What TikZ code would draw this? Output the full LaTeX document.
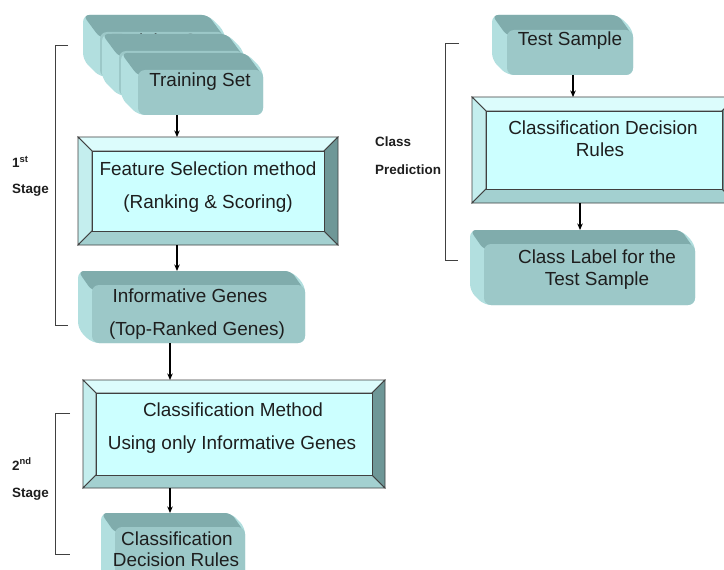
\documentclass[tikz,border=0pt]{standalone}
\usepackage{fontspec}
\setmainfont{Liberation Sans}
\usetikzlibrary{calc,arrows.meta}

\definecolor{slabfrontc}{HTML}{9CC8C8}
\definecolor{slabtopc}{HTML}{80ACAC}
\definecolor{slabsidec}{HTML}{B2DFDF}
\definecolor{bevface}{HTML}{CCFFFF}
\definecolor{bevtopc}{HTML}{DCFCFC}
\definecolor{bevleftc}{HTML}{C4EEEE}
\definecolor{bevbotc}{HTML}{A3D0D0}
\definecolor{bevrightc}{HTML}{6E9797}
\definecolor{ink}{HTML}{1E1E1E}
\definecolor{edgegray}{HTML}{404040}

\tikzset{
  slabface/.style={fill=slabfrontc, rounded corners=7bp, inner sep=0pt, outer sep=0pt},
  bevouter/.style={inner sep=0pt, outer sep=0pt},
  bevedge/.style={draw=edgegray, line width=0.8bp, line join=miter},
  boxtext/.style={font=\fontsize{19}{22}\selectfont, text=ink, inner sep=0pt, anchor=base},
  sidelabel/.style={font=\bfseries\fontsize{13.5}{16}\selectfont, text=ink, inner sep=0pt, anchor=base west},
  arr/.style={-{Stealth[length=6.5bp,width=5.5bp]}, line width=1.3bp, black},
  bracket/.style={draw=edgegray, line width=0.9bp},
}

% extruded rounded block: name, x1, y1, x2, y2 (front face), depth
\newcommand\slab[6]{%
  \fill[slabsidec, rounded corners=7bp] ({#2-#6},{#3-#6}) -- ({#4-#6},{#3-#6}) -- (#4,#3)
     -- (#4,#5) -- (#2,#5) -- ({#2-#6},{#5-#6}) -- cycle;
  \fill[slabtopc, rounded corners=6bp] ({#2-#6},{#3-#6}) -- ({#4-#6},{#3-#6}) -- (#4,{#3+6})
     -- (#2,{#3+6}) -- cycle;
  \coordinate (#1-back) at ({#2-#6},{#3-#6});
  \node[slabface, minimum width={(#4-#2)*1bp}, minimum height={(#5-#3)*1bp}]
     (#1) at ({(#2+#4)/2},{(#3+#5)/2}) {};
}

% bevelled panel: name, x1, y1, x2, y2 (outer), bevel width
\newcommand\bevbox[6]{%
  \node[bevouter, minimum width={(#4-#2)*1bp}, minimum height={(#5-#3)*1bp}]
     (#1) at ({(#2+#4)/2},{(#3+#5)/2}) {};
  \filldraw[bevedge, fill=bevtopc] (#2,#3) -- (#4,#3) -- ({#4-#6},{#3+#6}) -- ({#2+#6},{#3+#6}) -- cycle;
  \filldraw[bevedge, fill=bevleftc] (#2,#3) -- ({#2+#6},{#3+#6}) -- ({#2+#6},{#5-#6}) -- (#2,#5) -- cycle;
  \filldraw[bevedge, fill=bevbotc] (#2,#5) -- ({#2+#6},{#5-#6}) -- ({#4-#6},{#5-#6}) -- (#4,#5) -- cycle;
  \filldraw[bevedge, fill=bevrightc] (#4,#3) -- (#4,#5) -- ({#4-#6},{#5-#6}) -- ({#4-#6},{#3+#6}) -- cycle;
  \filldraw[bevedge, fill=bevface] ({#2+#6},{#3+#6}) rectangle ({#4-#6},{#5-#6});
}

\begin{document}
\begin{tikzpicture}[x=1bp, y=-1bp]
  \fill[white] (0,0) rectangle (724,570);
  \clip (0,0) rectangle (724,570);

  % arrow columns
  \coordinate (c1) at (177,0);
  \coordinate (c2) at (170,0);
  \coordinate (c3) at (573,0);
  \coordinate (c4) at (580,0);

  % ---- stack of training sets ----
  \slab{train3}{100}{32}{225}{77}{17}
  \node[boxtext] (train3T) at (162,48) {Training Set};
  \slab{train2}{119}{51}{244}{96}{17}
  \node[boxtext] (train2T) at (181,68) {Training Set};
  \slab{train}{138}{70}{263}{115}{17}
  \node[boxtext] (trainT) at (200,87) {Training Set};

  % ---- first stage ----
  \bevbox{feat}{78}{137}{338}{245}{14}
  \node[boxtext] (featT1) at (208,176) {Feature Selection method};
  \node[boxtext] (featT2) at (208,209) {(Ranking \& Scoring)};

  \slab{info}{92}{285}{305}{343}{14}
  \node[boxtext] (infoT1) at (190,302) {Informative Genes};
  \node[boxtext] (infoT2) at (197,335) {(Top-Ranked Genes)};

  % ---- second stage ----
  \bevbox{meth}{83}{380}{385}{488}{13}
  \node[boxtext] (methT1) at (233,416) {Classification Method};
  \node[boxtext] (methT2) at (232,449) {Using only Informative Genes};

  \slab{rules}{115}{527}{245}{590}{14}
  \node[boxtext] (rulesT1) at (177,545) {Classification};
  \node[boxtext] (rulesT2) at (176,566) {Decision Rules};

  % ---- class prediction ----
  \slab{test}{507}{30}{633}{75}{15}
  \node[boxtext] (testT) at (570,46) {Test Sample};

  \bevbox{pred}{472}{97}{736}{203}{14}
  \node[boxtext] (predT1) at (603,135) {Classification Decision};
  \node[boxtext] (predT2) at (600,157) {Rules};

  \slab{label}{484}{244}{695}{305}{14}
  \node[boxtext] (labelT1) at (597,263) {Class Label for the};
  \node[boxtext] (labelT2) at (597,285) {Test Sample};

  % ---- connectors ----
  \draw[arr] (train.south -| c1) -- (feat.north -| c1);
  \draw[arr] (feat.south -| c1) -- (info-back -| c1);
  \draw[arr] (info.south -| c2) -- (meth.north -| c2);
  \draw[arr] (meth.south -| c2) -- (rules-back -| c2);
  \draw[arr] (test.south -| c3) -- (pred.north -| c3);
  \draw[arr] (pred.south -| c4) -- (label-back -| c4);

  % ---- stage brackets and labels ----
  \draw[bracket] (68,45) -- (55,45) -- (55,325) -- (68,325);
  \node[sidelabel] (st1a) at (12,168) {1\textsuperscript{st}};
  \node[sidelabel] (st1b) at (12,194) {Stage};

  \draw[bracket] (70,413) -- (55,413) -- (55,554) -- (70,554);
  \node[sidelabel] (st2a) at (12,470) {2\textsuperscript{nd}};
  \node[sidelabel] (st2b) at (12,497) {Stage};

  \draw[bracket] (459,43) -- (445,43) -- (445,260) -- (458,260);
  \node[sidelabel] (cpa) at (375,147) {Class};
  \node[sidelabel] (cpb) at (375,175) {Prediction};
\end{tikzpicture}
\end{document}
